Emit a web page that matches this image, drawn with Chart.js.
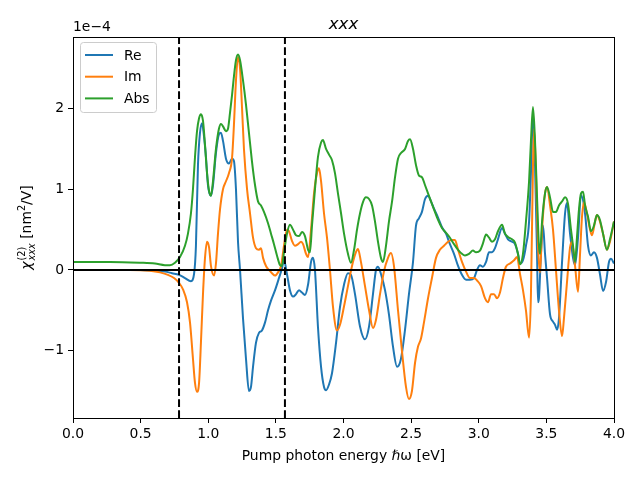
<!DOCTYPE html>
<html>
<head>
<meta charset="utf-8">
<script src="https://cdn.jsdelivr.net/npm/chart.js@4.4.1/dist/chart.umd.min.js"></script>
<style>
  html, body { margin: 0; padding: 0; background: #fff; }
  #wrap { width: 640px; height: 480px; }
</style>
</head>
<body>
<div id="wrap"><canvas id="chi2"></canvas></div>
<script>
// values in units of 1e-4 nm^2/V, energies in eV
var reEnergy = [0, 0.348, 0.495, 0.606, 0.680, 0.732, 0.784, 0.828, 0.872, 0.895, 0.909, 0.924, 0.939, 0.954, 0.969, 0.983, 0.998, 1.020, 1.035, 1.057, 1.079, 1.094, 1.109, 1.131, 1.153, 1.176, 1.190, 1.205, 1.220, 1.235, 1.257, 1.279, 1.301, 1.316, 1.331, 1.353, 1.375, 1.397, 1.420, 1.442, 1.464, 1.494, 1.523, 1.545, 1.560, 1.582, 1.604, 1.627, 1.649, 1.671, 1.693, 1.715, 1.738, 1.760, 1.774, 1.789, 1.811, 1.834, 1.856, 1.871, 1.893, 1.915, 1.945, 1.974, 2.004, 2.033, 2.055, 2.085, 2.122, 2.159, 2.189, 2.218, 2.240, 2.255, 2.277, 2.307, 2.336, 2.366, 2.396, 2.425, 2.455, 2.484, 2.514, 2.536, 2.558, 2.580, 2.603, 2.625, 2.647, 2.669, 2.699, 2.728, 2.758, 2.787, 2.817, 2.847, 2.876, 2.906, 2.935, 2.965, 2.987, 3.009, 3.031, 3.054, 3.076, 3.098, 3.120, 3.142, 3.172, 3.194, 3.216, 3.246, 3.268, 3.290, 3.305, 3.327, 3.349, 3.372, 3.386, 3.401, 3.416, 3.431, 3.438, 3.445, 3.460, 3.475, 3.490, 3.505, 3.527, 3.549, 3.564, 3.579, 3.593, 3.616, 3.638, 3.652, 3.675, 3.697, 3.712, 3.734, 3.756, 3.786, 3.808, 3.830, 3.852, 3.874, 3.896, 3.919, 3.941, 3.963, 3.978, 4.000];
var reValues = [0, 0, 0, -0.01, -0.02, -0.04, -0.06, -0.10, -0.14, -0.05, 0.30, 1.30, 1.70, 1.82, 1.65, 1.40, 1.05, 0.92, 1.05, 1.45, 1.68, 1.70, 1.60, 1.38, 1.32, 1.38, 1.35, 1.00, 0.35, 0.00, -0.60, -1.10, -1.50, -1.45, -1.20, -0.90, -0.78, -0.75, -0.65, -0.50, -0.38, -0.25, -0.10, 0.02, 0.12, -0.05, -0.25, -0.33, -0.30, -0.25, -0.28, -0.31, -0.18, 0.10, 0.15, 0.00, -0.70, -1.20, -1.45, -1.49, -1.42, -1.28, -0.90, -0.46, -0.18, -0.04, -0.06, -0.30, -0.70, -0.86, -0.70, -0.30, 0.00, 0.04, -0.05, -0.25, -0.55, -0.95, -1.20, -1.10, -0.74, -0.30, 0.10, 0.55, 0.64, 0.72, 0.88, 0.92, 0.85, 0.76, 0.65, 0.53, 0.45, 0.32, 0.20, 0.05, -0.06, -0.12, -0.12, -0.10, 0.00, 0.06, 0.04, 0.10, 0.22, 0.22, 0.27, 0.38, 0.52, 0.45, 0.38, 0.35, 0.32, 0.20, 0.08, 0.12, 0.30, 0.60, 1.20, 1.95, 1.30, 0.20, -0.40, -0.35, 0.20, 0.55, 0.20, -0.10, -0.55, -0.64, -0.68, -0.74, -0.60, 0.10, 0.70, 0.83, 0.45, 0.15, 0.06, 0.40, 0.93, 0.70, 0.30, 0.18, 0.22, 0.15, -0.05, -0.26, -0.15, 0.10, 0.14, 0.08];

var imEnergy = [0, 0.421, 0.569, 0.643, 0.702, 0.747, 0.784, 0.813, 0.843, 0.865, 0.887, 0.902, 0.917, 0.932, 0.946, 0.961, 0.976, 0.991, 1.006, 1.020, 1.043, 1.057, 1.072, 1.087, 1.109, 1.131, 1.153, 1.176, 1.190, 1.205, 1.220, 1.235, 1.250, 1.264, 1.287, 1.309, 1.331, 1.353, 1.375, 1.390, 1.405, 1.427, 1.449, 1.471, 1.494, 1.516, 1.538, 1.560, 1.582, 1.597, 1.619, 1.641, 1.664, 1.686, 1.701, 1.723, 1.738, 1.760, 1.782, 1.804, 1.819, 1.834, 1.856, 1.878, 1.900, 1.922, 1.952, 1.974, 2.004, 2.033, 2.063, 2.092, 2.107, 2.129, 2.159, 2.189, 2.218, 2.240, 2.270, 2.299, 2.329, 2.351, 2.373, 2.403, 2.432, 2.462, 2.484, 2.506, 2.529, 2.551, 2.573, 2.595, 2.625, 2.654, 2.684, 2.713, 2.743, 2.773, 2.802, 2.824, 2.847, 2.876, 2.906, 2.935, 2.965, 2.987, 3.017, 3.046, 3.068, 3.091, 3.113, 3.135, 3.157, 3.179, 3.201, 3.231, 3.261, 3.283, 3.305, 3.327, 3.349, 3.372, 3.386, 3.401, 3.409, 3.423, 3.438, 3.453, 3.468, 3.490, 3.505, 3.527, 3.549, 3.571, 3.593, 3.616, 3.630, 3.652, 3.675, 3.689, 3.712, 3.734, 3.749, 3.763, 3.778, 3.800, 3.823, 3.837, 3.860, 3.874, 3.896, 3.919, 3.948, 3.970, 4.000];
var imValues = [0, 0, -0.01, -0.03, -0.06, -0.10, -0.16, -0.24, -0.40, -0.65, -1.10, -1.40, -1.51, -1.40, -0.90, -0.30, 0.15, 0.35, 0.28, 0.05, -0.07, 0.08, 0.45, 0.75, 1.00, 1.10, 1.20, 1.39, 1.80, 2.35, 2.64, 2.50, 2.00, 1.50, 1.00, 0.70, 0.40, 0.27, 0.25, 0.27, 0.15, 0.05, 0.00, -0.04, -0.07, -0.03, 0.05, 0.30, 0.50, 0.48, 0.36, 0.30, 0.32, 0.35, 0.32, 0.20, 0.16, 0.50, 0.95, 1.20, 1.26, 1.10, 0.70, 0.40, 0.00, -0.45, -0.75, -0.68, -0.45, -0.20, 0.05, 0.22, 0.26, 0.10, -0.20, -0.50, -0.72, -0.62, -0.30, -0.02, 0.15, 0.21, 0.05, -0.50, -1.00, -1.45, -1.60, -1.50, -1.15, -0.95, -0.85, -0.65, -0.35, -0.10, 0.15, 0.25, 0.30, 0.35, 0.37, 0.37, 0.25, 0.10, -0.02, -0.10, -0.10, -0.13, -0.20, -0.35, -0.40, -0.30, -0.30, -0.35, -0.28, -0.10, 0.04, 0.08, 0.12, 0.16, -0.05, -0.25, -0.50, -0.84, -0.30, 1.30, 1.75, 1.20, 0.30, -0.03, 0.50, 0.95, 1.03, 0.80, 0.50, 0.00, -0.50, -0.82, -0.60, -0.16, 0.28, 0.35, 0.05, -0.27, 0.20, 0.65, 0.84, 0.70, 0.50, 0.43, 0.60, 0.68, 0.60, 0.45, 0.25, 0.35, 0.60];

var absEnergy = [0, 0.274, 0.495, 0.606, 0.680, 0.717, 0.754, 0.791, 0.828, 0.850, 0.872, 0.887, 0.902, 0.917, 0.932, 0.946, 0.961, 0.976, 0.991, 1.006, 1.020, 1.035, 1.057, 1.079, 1.094, 1.109, 1.131, 1.146, 1.161, 1.176, 1.190, 1.205, 1.220, 1.235, 1.257, 1.279, 1.301, 1.323, 1.346, 1.368, 1.390, 1.412, 1.442, 1.464, 1.486, 1.508, 1.531, 1.545, 1.560, 1.582, 1.604, 1.627, 1.649, 1.671, 1.693, 1.715, 1.738, 1.752, 1.767, 1.789, 1.811, 1.834, 1.848, 1.871, 1.893, 1.915, 1.937, 1.959, 1.982, 2.004, 2.033, 2.055, 2.078, 2.100, 2.122, 2.144, 2.166, 2.189, 2.211, 2.233, 2.255, 2.277, 2.292, 2.314, 2.336, 2.359, 2.381, 2.403, 2.425, 2.455, 2.477, 2.492, 2.514, 2.536, 2.558, 2.580, 2.603, 2.625, 2.647, 2.669, 2.699, 2.728, 2.758, 2.787, 2.817, 2.847, 2.876, 2.898, 2.928, 2.957, 2.980, 3.009, 3.031, 3.054, 3.076, 3.098, 3.120, 3.142, 3.172, 3.194, 3.216, 3.246, 3.268, 3.290, 3.305, 3.327, 3.349, 3.372, 3.386, 3.401, 3.416, 3.431, 3.445, 3.453, 3.468, 3.490, 3.505, 3.527, 3.549, 3.571, 3.593, 3.616, 3.638, 3.660, 3.682, 3.697, 3.712, 3.726, 3.741, 3.756, 3.771, 3.786, 3.808, 3.830, 3.852, 3.874, 3.896, 3.919, 3.948, 3.970, 4.000];
var absValues = [0.10, 0.10, 0.09, 0.08, 0.06, 0.06, 0.09, 0.16, 0.30, 0.45, 0.70, 1.00, 1.40, 1.72, 1.88, 1.93, 1.85, 1.55, 1.20, 0.98, 0.92, 1.10, 1.50, 1.75, 1.81, 1.78, 1.72, 1.75, 1.95, 2.17, 2.40, 2.60, 2.67, 2.60, 2.35, 2.05, 1.70, 1.35, 1.05, 0.85, 0.80, 0.72, 0.58, 0.45, 0.32, 0.18, 0.06, 0.05, 0.22, 0.45, 0.56, 0.50, 0.43, 0.42, 0.47, 0.42, 0.25, 0.22, 0.55, 1.00, 1.40, 1.58, 1.61, 1.50, 1.43, 1.36, 1.20, 0.95, 0.70, 0.45, 0.20, 0.09, 0.25, 0.50, 0.70, 0.84, 0.90, 0.88, 0.80, 0.60, 0.35, 0.15, 0.10, 0.30, 0.60, 0.85, 1.15, 1.38, 1.45, 1.50, 1.60, 1.62, 1.50, 1.30, 1.17, 1.15, 1.05, 0.95, 0.85, 0.75, 0.62, 0.52, 0.46, 0.40, 0.32, 0.25, 0.20, 0.18, 0.20, 0.24, 0.22, 0.24, 0.33, 0.44, 0.40, 0.35, 0.38, 0.48, 0.56, 0.45, 0.41, 0.38, 0.34, 0.20, 0.07, 0.20, 0.60, 1.10, 1.60, 2.02, 1.60, 0.90, 0.30, 0.20, 0.60, 0.95, 1.03, 0.90, 0.72, 0.72, 0.80, 0.85, 0.90, 0.82, 0.50, 0.30, 0.10, 0.40, 0.75, 0.95, 0.97, 0.80, 0.66, 0.48, 0.55, 0.68, 0.62, 0.45, 0.25, 0.38, 0.60];

var gapEnergies = [0.784, 1.567];   // dashed markers
var xTicks = [0, 0.5, 1.0, 1.5, 2.0, 2.5, 3.0, 3.5, 4.0];
var yTicks = [-1, 0, 1, 2];
var xRange = [0, 4];
var yRange = [-1.835, 2.888];

var seriesNames = ['Re', 'Im', 'Abs'];
var seriesColors = ['#1f77b4', '#ff7f0e', '#2ca02c'];

var FONT = "'DejaVu Sans', sans-serif";

function pairs(xs, ys) {
    return xs.map(function (x, i) { return { x: x, y: ys[i] }; });
}

var datasets = [];
var allX = [reEnergy, imEnergy, absEnergy];
var allY = [reValues, imValues, absValues];
for (var i = 0; i < 3; i++) {
    datasets.push({
        label: seriesNames[i],
        data: pairs(allX[i], allY[i]),
        borderColor: seriesColors[i],
        borderWidth: 2,
        pointRadius: 0,
        cubicInterpolationMode: 'monotone',
        order: 3 - i
    });
}
// zero line
datasets.push({
    label: 'zero',
    data: [{ x: xRange[0], y: 0 }, { x: xRange[1], y: 0 }],
    borderColor: '#000',
    borderWidth: 2,
    pointRadius: 0,
    order: 0
});
gapEnergies.forEach(function (e) {
    datasets.push({
        label: 'gap',
        data: [{ x: e, y: yRange[0] }, { x: e, y: yRange[1] }],
        borderColor: '#000',
        borderWidth: 2,
        borderDash: [7.7, 3.3],
        pointRadius: 0,
        order: 0
    });
});

function minus(v) {
    return v < 0 ? '\u2212' + Math.abs(v) : String(v);
}

var extras = {
    id: 'extras',
    afterDraw: function (chart) {
        var ctx = chart.ctx;
        var a = chart.chartArea;
        ctx.save();
        // frame
        ctx.strokeStyle = '#000';
        ctx.lineWidth = 1;
        ctx.strokeRect(a.left + 0.5, a.top + 0.5, a.right - a.left, a.bottom - a.top);

        ctx.fillStyle = '#000';
        // title
        ctx.font = 'italic 16.7px ' + FONT;
        ctx.textAlign = 'center';
        ctx.textBaseline = 'alphabetic';
        ctx.fillText('xxx', (a.left + a.right) / 2, 29);

        // offset text
        ctx.font = '13.9px ' + FONT;
        ctx.textAlign = 'left';
        ctx.fillText('1e\u22124', a.left, 31);

        // x label
        ctx.textAlign = 'center';
        ctx.fillText('Pump photon energy \u210F\u03C9 [eV]', (a.left + a.right) / 2, 460);

        // y label (rotated)
        ctx.translate(31, (a.top + a.bottom) / 2);
        ctx.rotate(-Math.PI / 2);
        var parts = [
            { t: '\u03C7', f: 'italic 13.9px ', dy: 0 },
            { t: '(2)', f: '9.7px ', dy: -6 },
            { t: 'xxx', f: 'italic 9.7px ', dy: 4 },
            { t: ' [nm', f: '13.9px ', dy: 0 },
            { t: '2', f: '9.7px ', dy: -6 },
            { t: '/V]', f: '13.9px ', dy: 0 }
        ];
        var widths = parts.map(function (p) { ctx.font = p.f + FONT; return ctx.measureText(p.t).width; });
        // sup and sub are stacked: total width uses max of the two
        var total = widths[0] + Math.max(widths[1], widths[2]) + widths[3] + widths[4] + widths[5] + 1;
        var x = -total / 2;
        ctx.textAlign = 'left';
        ctx.font = parts[0].f + FONT; ctx.fillText(parts[0].t, x, 0); x += widths[0] + 1;
        ctx.font = parts[1].f + FONT; ctx.fillText(parts[1].t, x, parts[1].dy);
        ctx.font = parts[2].f + FONT; ctx.fillText(parts[2].t, x, parts[2].dy);
        x += Math.max(widths[1], widths[2]);
        for (var k = 3; k < 6; k++) {
            ctx.font = parts[k].f + FONT; ctx.fillText(parts[k].t, x, parts[k].dy); x += widths[k];
        }
        ctx.restore();

        // legend
        ctx.save();
        var lx = 80, ly = 42, lw = 76, lh = 70;
        ctx.fillStyle = 'rgba(255,255,255,0.8)';
        ctx.strokeStyle = '#cccccc';
        ctx.lineWidth = 1;
        ctx.beginPath();
        ctx.roundRect(lx + 0.5, ly + 0.5, lw, lh, 3);
        ctx.fill();
        ctx.stroke();
        ctx.font = '13.9px ' + FONT;
        ctx.textAlign = 'left';
        ctx.textBaseline = 'middle';
        for (var j = 0; j < 3; j++) {
            var yy = 55 + j * 21.7;
            ctx.strokeStyle = seriesColors[j];
            ctx.lineWidth = 2;
            ctx.beginPath();
            ctx.moveTo(85, yy);
            ctx.lineTo(113, yy);
            ctx.stroke();
            ctx.fillStyle = '#000';
            ctx.fillText(seriesNames[j], 124, yy + 1);
        }
        ctx.restore();
    }
};

var ctx = document.getElementById('chi2').getContext('2d');
var chart = new Chart(ctx, {
    type: 'line',
    data: { datasets: datasets },
    options: {
        responsive: true,
        maintainAspectRatio: false,
        animation: false,
        parsing: false,
        layout: { padding: { left: 0, right: 26, top: 37, bottom: 0 } },
        plugins: {
            legend: { display: false },
            tooltip: { enabled: false }
        },
        scales: {
            x: {
                type: 'linear',
                min: xRange[0],
                max: xRange[1],
                afterBuildTicks: function (scale) {
                    scale.ticks = xTicks.map(function (v) { return { value: v }; });
                },
                afterFit: function (scale) { scale.height = 62; },
                ticks: {
                    color: '#000',
                    font: { family: FONT, size: 13.9 },
                    padding: 3,
                    maxRotation: 0,
                    autoSkip: false,
                    callback: function (v) { return v.toFixed(1); }
                },
                grid: { drawOnChartArea: false, drawTicks: true, tickLength: 5, tickColor: '#000', tickWidth: 1 },
                border: { display: false }
            },
            y: {
                type: 'linear',
                min: yRange[0],
                max: yRange[1],
                afterBuildTicks: function (scale) {
                    scale.ticks = yTicks.map(function (v) { return { value: v }; });
                },
                afterFit: function (scale) { scale.width = 73; },
                ticks: {
                    color: '#000',
                    font: { family: FONT, size: 13.9 },
                    padding: 4,
                    callback: function (v) { return minus(v); }
                },
                grid: { drawOnChartArea: false, drawTicks: true, tickLength: 5, tickColor: '#000', tickWidth: 1 },
                border: { display: false }
            }
        }
    },
    plugins: [extras]
});
</script>
</body>
</html>
